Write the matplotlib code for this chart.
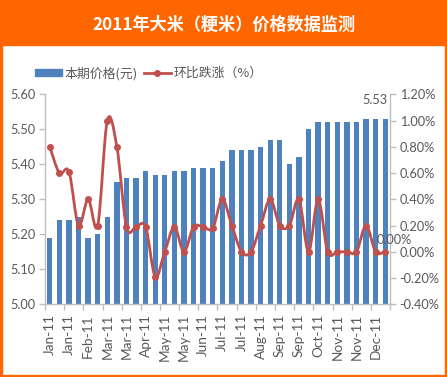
import numpy as np
import matplotlib.pyplot as plt
from matplotlib.patches import Rectangle, PathPatch, Patch
from matplotlib.path import Path
from matplotlib.lines import Line2D
from matplotlib.ticker import FixedLocator, FuncFormatter

# 36 observations (3 per month), labels on every second one
price = [5.19, 5.24, 5.24, 5.25, 5.19, 5.20, 5.25, 5.35, 5.36, 5.36, 5.38, 5.37,
         5.37, 5.38, 5.38, 5.39, 5.39, 5.39, 5.41, 5.44, 5.44, 5.44, 5.45, 5.47,
         5.47, 5.40, 5.42, 5.50, 5.52, 5.52, 5.52, 5.52, 5.52, 5.53, 5.53, 5.53]
change = [0.80, 0.60, 0.61, 0.20, 0.40, 0.20, 1.00, 0.80, 0.19, 0.19, 0.19, -0.19,
          0.00, 0.19, 0.00, 0.19, 0.19, 0.18, 0.40, 0.20, 0.00, 0.00, 0.20, 0.40,
          0.20, 0.20, 0.40, 0.00, 0.40, 0.00, 0.00, 0.00, 0.00, 0.20, 0.00, 0.00]
tick_labels = ["Jan-11", "Jan-11", "Feb-11", "Mar-11", "Mar-11", "Apr-11",
               "May-11", "May-11", "Jun-11", "Jul-11", "Jul-11", "Aug-11",
               "Sep-11", "Sep-11", "Oct-11", "Nov-11", "Nov-11", "Dec-11"]

title = "2011年大米（粳米）价格数据监测"
bar_name = "本期价格(元)"
line_name = "环比跌涨（%）"

ORANGE = "#FF6600"
BLUE = "#4F81BD"
RED = "#C0504D"
TXT = "#595959"
AXC = "#BFBFBF"
CJK = ["Noto Sans CJK SC", "DejaVu Sans"]
NUM = ["Lato", "DejaVu Sans"]

W, H = 447, 377
fig = plt.figure(figsize=(W / 100, H / 100), dpi=100)

# frame: title bar + thin orange border
fig.patches.append(Rectangle((0, 1 - 45 / H), 1, 45 / H, transform=fig.transFigure,
                             color=ORANGE, zorder=0))
fig.patches.append(Rectangle((0, 0), 2 / W, 1, transform=fig.transFigure, color=ORANGE))
fig.patches.append(Rectangle((1 - 2 / W, 0), 2 / W, 1, transform=fig.transFigure, color=ORANGE))
fig.patches.append(Rectangle((0, 0), 1, 2 / H, transform=fig.transFigure, color=ORANGE))
fig.text(0.5, 1 - 24.5 / H, title, color="white", fontsize=12.3, fontweight="bold",
         family=CJK, ha="center", va="center")

ax1 = fig.add_axes([45 / W, 1 - 304.3 / H, 345 / W, 210 / H])
ax2 = ax1.twinx()

x = np.arange(len(price))
ax1.bar(x, price, width=0.55, color=BLUE, zorder=2)
ax1.set_xlim(-0.5, len(price) - 0.5)
ax1.set_ylim(5.0, 5.6)
ax2.set_ylim(-0.4, 1.2)

# smoothed line (Catmull-Rom style, like Excel's smoothing)
n = len(change)
verts = [(x[0], change[0])]
codes = [Path.MOVETO]
for i in range(n - 1):
    a = max(i - 1, 0)
    d = min(i + 2, n - 1)
    c1 = (x[i] + (x[i + 1] - x[a]) / 6, change[i] + (change[i + 1] - change[a]) / 6)
    c2 = (x[i + 1] - (x[d] - x[i]) / 6, change[i + 1] - (change[d] - change[i]) / 6)
    verts += [c1, c2, (x[i + 1], change[i + 1])]
    codes += [Path.CURVE4] * 3
ax2.add_patch(PathPatch(Path(verts, codes), fill=False, edgecolor=RED, lw=2, zorder=3))
ax2.plot(x, change, "o", color=RED, ms=4, zorder=4)

# axes styling
for ax in (ax1, ax2):
    ax.spines["top"].set_visible(False)
    for s in ("left", "right", "bottom"):
        ax.spines[s].set_color(AXC)
        ax.spines[s].set_linewidth(1)
ax1.spines["right"].set_visible(False)
ax2.spines["left"].set_visible(False)
ax2.spines["bottom"].set_visible(False)

ax1.set_yticks(np.round(np.arange(5.0, 5.61, 0.1), 2))
ax1.yaxis.set_major_formatter(FuncFormatter(lambda v, p: f"{v:.2f}"))
ax2.set_yticks(np.round(np.arange(-0.4, 1.21, 0.2), 2))
ax2.yaxis.set_major_formatter(FuncFormatter(lambda v, p: f"{v:.2f}%"))
for ax in (ax1, ax2):
    ax.tick_params(axis="y", length=4, width=1, color=AXC, labelcolor=TXT,
                   labelsize=9.2, pad=3)
    for lab in ax.get_yticklabels():
        lab.set_family(NUM)

ax1.set_xticks(x[::2])
ax1.set_xticklabels(tick_labels, rotation=90, family=NUM, fontsize=9.8, color=TXT)
ax1.tick_params(axis="x", which="major", length=0, pad=7)
ax1.xaxis.set_minor_locator(FixedLocator(np.arange(-0.5, len(price), 2)))
ax1.tick_params(axis="x", which="minor", length=4, width=1, color=AXC)

# data labels on the last point
ax1.annotate(f"{price[-1]:.2f}", (x[-1], price[-1]), xytext=(1.5, 9),
             textcoords="offset points", ha="right", va="bottom",
             fontsize=9.2, color=TXT, family=NUM)
ax2.annotate(f"{change[-1]:.2f}%", (x[-1], change[-1]), xytext=(-6.5, 4),
             textcoords="offset points", ha="left", va="bottom",
             fontsize=9.2, color=TXT, family=NUM)

handles = [Patch(color=BLUE), Line2D([], [], color=RED, lw=2, marker="o", ms=4)]
fig.legend(handles, [bar_name, line_name], loc="center left",
           bbox_to_anchor=(35 / W, 1 - 73.5 / H), ncol=2, frameon=False,
           prop={"family": CJK, "size": 9.3}, labelcolor=TXT,
           handlelength=2.1, handleheight=0.5, handletextpad=0.2,
           columnspacing=0.45, borderpad=0, borderaxespad=0)

fig.savefig("out.png", dpi=100)
